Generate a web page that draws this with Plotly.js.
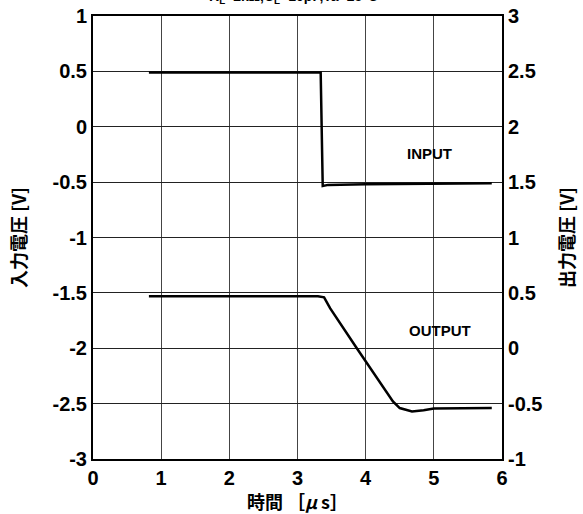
<!DOCTYPE html>
<html>
<head>
<meta charset="utf-8">
<script src="https://cdn.plot.ly/plotly-3.0.1.min.js"></script>
<style>html,body{margin:0;padding:0;background:#fff;}#chart{width:583px;height:514px;}</style>
</head>
<body>
<div id="chart"></div>
<script>
// Input waveform (left axis, V)
const inputTime = [0.82, 3.34, 3.37, 3.45, 4.0, 5.0, 5.85];
const inputVolt = [0.49, 0.49, -0.535, -0.525, -0.52, -0.515, -0.51];
// Output waveform (right axis, V)
const outputTime = [0.82, 3.30, 3.39, 3.48, 3.87, 4.40, 4.50, 4.68, 4.85, 5.0, 5.85];
const outputVolt = [0.47, 0.47, 0.46, 0.36, 0.0, -0.48, -0.54, -0.57, -0.56, -0.545, -0.54];
const xTicks = [0, 1, 2, 3, 4, 5, 6];
const leftTicks = [1, 0.5, 0, -0.5, -1, -1.5, -2, -2.5, -3];
const rightTicks = [3, 2.5, 2, 1.5, 1, 0.5, 0, -0.5, -1];
const labels = ['INPUT', 'OUTPUT'];
const labelX = [4.94, 5.09];
const labelY = [-0.24, -1.84];
const chartTitle = 'R<sub>L</sub>=2kΩ,C<sub>L</sub>=10pF,Ta=25°C';

const FONT = 'Liberation Sans, Arial, Noto Sans CJK JP, sans-serif';
const CJK = 'Noto Sans CJK JP, Liberation Sans, sans-serif';
const bold = v => '<b>' + v + '</b>';
const traces = [
  {x: inputTime, y: inputVolt, type: 'scatter', mode: 'lines', line: {color: '#000', width: 2.5}, yaxis: 'y', hoverinfo: 'skip'},
  {x: outputTime, y: outputVolt, type: 'scatter', mode: 'lines', line: {color: '#000', width: 2.5}, yaxis: 'y2', hoverinfo: 'skip'}
];
const layout = {
  width: 583, height: 514,
  margin: {l: 93, r: 81, t: 16, b: 55},
  paper_bgcolor: '#fff', plot_bgcolor: '#fff',
  showlegend: false,
  font: {family: FONT, color: '#000'},
  xaxis: {
    range: [0, 6], tickvals: xTicks, ticktext: xTicks.map(bold),
    showgrid: true, gridcolor: '#444', gridwidth: 1, zeroline: false,
    showline: true, linecolor: '#000', linewidth: 2, mirror: true,
    ticks: '', tickfont: {size: 20, family: FONT, weight: 'bold'},
    title: {text: '<b>時間 ［<i>μ</i> s］</b>', font: {size: 18, family: CJK}, standoff: 20}
  },
  yaxis: {
    range: [-3, 1], tickvals: leftTicks, ticktext: leftTicks.map(bold),
    showgrid: true, gridcolor: '#222', gridwidth: 1, zeroline: false,
    showline: true, linecolor: '#000', linewidth: 2,
    ticks: '', tickfont: {size: 20, family: FONT, weight: 'bold'},
    title: {text: '<b>入力電圧 [V]</b>', font: {size: 18, family: CJK}, standoff: 21}
  },
  yaxis2: {
    range: [-1, 3], tickvals: rightTicks, ticktext: rightTicks.map(bold),
    overlaying: 'y', side: 'right', showgrid: false, zeroline: false,
    showline: true, linecolor: '#000', linewidth: 2,
    ticks: '', tickfont: {size: 20, family: FONT, weight: 'bold'},
    title: {text: '<b>出力電圧 [V]</b>', font: {size: 18, family: CJK}, standoff: 20}
  },
  annotations: labels.map((t, i) => ({x: labelX[i], y: labelY[i], xref: 'x', yref: 'y', text: bold(t), showarrow: false, font: {size: 15, family: FONT, color: '#000'}}))
    .concat([{x: 0.49, y: 1.018, xref: 'paper', yref: 'paper', xanchor: 'center', yanchor: 'bottom', text: bold(chartTitle), showarrow: false, font: {size: 14, family: FONT, color: '#000'}}])
};
Plotly.newPlot('chart', traces, layout, {staticPlot: true, displayModeBar: false});
</script>
</body>
</html>
